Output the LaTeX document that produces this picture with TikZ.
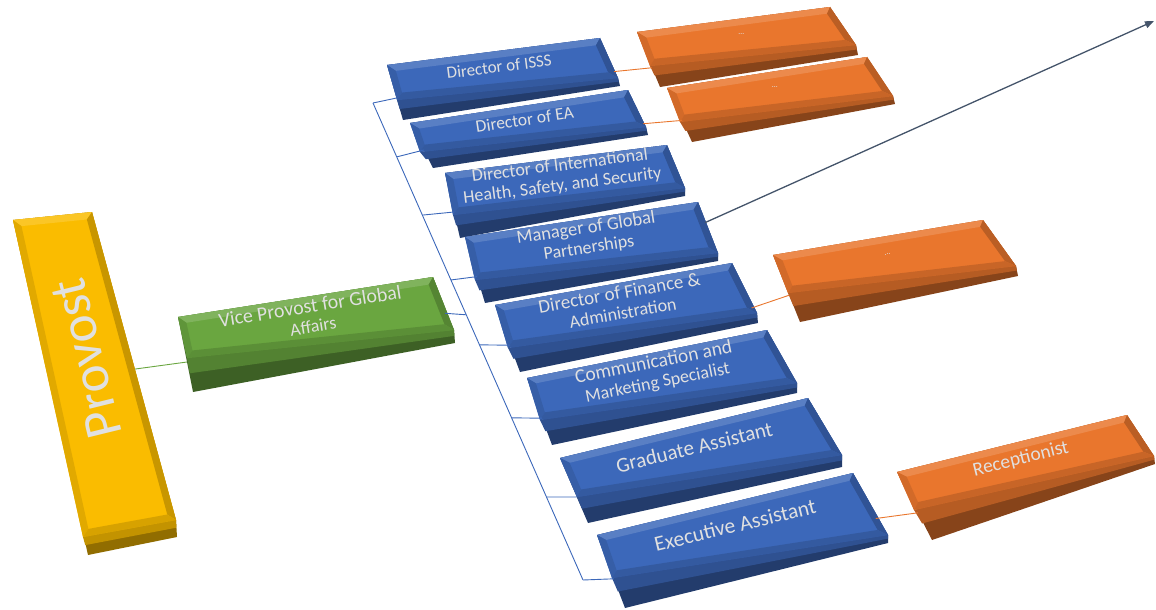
\documentclass[tikz,border=0pt]{standalone}
\usepackage{fontspec}
\setmainfont{Carlito}
\usetikzlibrary{calc,arrows.meta}
\definecolor{unitblue}{RGB}{60,104,186}
\definecolor{unitorange}{RGB}{233,118,45}
\definecolor{unitgreen}{RGB}{106,166,64}
\definecolor{unitgold}{RGB}{250,188,0}
\definecolor{arrowslate}{RGB}{68,84,106}

% one bevelled slab: name, top face (tl,tr,br,bl), front bottom (fr,fl), colour, text
\newcommand{\orgbox}[9]{%
  \coordinate (#1-tl) at #2; \coordinate (#1-tr) at #3;
  \coordinate (#1-br) at #4; \coordinate (#1-bl) at #5;
  \coordinate (#1-fr) at #6; \coordinate (#1-fl) at #7;
  \coordinate (#1-itl) at ($(#1-tl)!7pt!(#1-tr) + (#1-tl)!7pt!(#1-bl) - (#1-tl)$);
  \coordinate (#1-itr) at ($(#1-tr)!7pt!(#1-tl) + (#1-tr)!7pt!(#1-br) - (#1-tr)$);
  \coordinate (#1-ibr) at ($(#1-br)!7pt!(#1-bl) + (#1-br)!7pt!(#1-tr) - (#1-br)$);
  \coordinate (#1-ibl) at ($(#1-bl)!7pt!(#1-br) + (#1-bl)!7pt!(#1-tl) - (#1-bl)$);
  % front side, two tones
  \fill[#8!58!black] (#1-tl) -- (#1-tr) -- (#1-br) -- (#1-fr) -- (#1-fl) -- cycle;
  \fill[#8!78!black] (#1-bl) -- (#1-br) -- ($(#1-br)!0.45!(#1-fr)$) -- ($(#1-bl)!0.45!(#1-fl)$) -- cycle;
  % top face and its bevel
  \fill[#8] (#1-tl) -- (#1-tr) -- (#1-br) -- (#1-bl) -- cycle;
  \fill[#8!85!white] (#1-tl) -- (#1-tr) -- (#1-itr) -- (#1-itl) -- cycle;
  \fill[#8!90!black] (#1-tl) -- (#1-itl) -- (#1-ibl) -- (#1-bl) -- cycle;
  \fill[#8!80!black] (#1-tr) -- (#1-br) -- (#1-ibr) -- (#1-itr) -- cycle;
  \fill[#8!86!black] (#1-bl) -- (#1-br) -- (#1-ibr) -- (#1-ibl) -- cycle;
  \path let \p1 = ($(#1-tr)-(#1-tl)$), \n1 = {atan2(\y1,\x1)} in
    ($0.3*(#1-tl)+0.3*(#1-tr)+0.2*(#1-br)+0.2*(#1-bl)$)
    node[boxtext, rotate=\n1, #8 text] (#1) {#9};
}

\begin{document}
\begin{tikzpicture}[
    x=1pt, y=-1pt,
    boxtext/.style={text=white!88!black, align=center, inner sep=0pt, font=\fontsize{18}{20}\selectfont},
    unitblue text/.style={},
    unitorange text/.style={font=\fontsize{8}{8}\selectfont},
    unitgreen text/.style={},
    unitgold text/.style={rotate=98, xshift=-18pt, yshift=1pt, font=\fontsize{53}{53}\selectfont},
    bluelink/.style={draw=unitblue, line width=0.9pt},
    orangelink/.style={draw=unitorange, line width=0.9pt},
    greenlink/.style={draw=unitgreen, line width=0.9pt},
    callout/.style={draw=arrowslate, line width=1.3pt, -{Triangle[length=9pt, width=7pt]}}
]
    \useasboundingbox (0,0) rectangle (1156,610);

    % top of the chart
    \orgbox{provost}{(13,220)}{(92,212)}{(176,520)}{(83,537)}{(177,537)}{(88,555)}{unitgold}{Provost}
    \orgbox{vp}{(178,317)}{(433,277)}{(454,330)}{(187,358)}{(455,343)}{(193,392)}{unitgreen}%
        {\fontsize{20}{20}\selectfont Vice Provost for Global\\Affairs}

    % staff reporting to the vice provost
    \orgbox{isss}{(387,65)}{(600,38)}{(618,78)}{(397,100)}{(620,86)}{(403,120)}{unitblue}%
        {\fontsize{17}{18}\selectfont Director of ISSS}
    \orgbox{ea}{(410,123)}{(628,90)}{(646,127)}{(420,152)}{(648,135)}{(433,168)}{unitblue}%
        {\fontsize{17.5}{18}\selectfont Director of EA}
    \orgbox{intl}{(445,173)}{(667,145)}{(685,188)}{(453,215)}{(685,196)}{(460,238)}{unitblue}%
        {\fontsize{18}{19.5}\selectfont Director of International\\Health, Safety, and Security}
    \orgbox{mgr}{(465,237)}{(698,202)}{(718,253)}{(475,280)}{(718,261)}{(485,303)}{unitblue}%
        {\fontsize{18.5}{20}\selectfont Manager of Global\\Partnerships}
    \orgbox{fin}{(495,305)}{(732,263)}{(757,313)}{(508,348)}{(758,323)}{(520,372)}{unitblue}%
        {\fontsize{19}{20.5}\selectfont Director of Finance \&\\Administration}
    \orgbox{comm}{(527,378)}{(767,330)}{(797,383)}{(540,420)}{(797,393)}{(552,445)}{unitblue}%
        {\fontsize{19.5}{21}\selectfont Communication and\\Marketing Specialist}
    \orgbox{grad}{(560,458)}{(808,398)}{(842,455)}{(577,497)}{(842,467)}{(588,523)}{unitblue}%
        {\fontsize{21}{22}\selectfont Graduate Assistant}
    \orgbox{exec}{(597,535)}{(853,473)}{(888,535)}{(612,578)}{(888,543)}{(625,608)}{unitblue}%
        {\fontsize{21.5}{22}\selectfont Executive Assistant}

    % third level
    \orgbox{isssub}{(637,32)}{(830,7)}{(856,45)}{(650,66)}{(858,55)}{(660,87)}{unitorange}{...}
    \orgbox{easub}{(667,88)}{(867,57)}{(893,96)}{(680,122)}{(895,104)}{(692,142)}{unitorange}{...}
    \orgbox{finsub}{(773,255)}{(983,220)}{(1016,266)}{(788,293)}{(1018,276)}{(800,322)}{unitorange}{...}
    \orgbox{recep}{(897,472)}{(1127,415)}{(1154,456)}{(914,510)}{(1155,464)}{(932,540)}{unitorange}%
        {\fontsize{19.5}{20}\selectfont Receptionist}

    % connectors
    \draw[greenlink] ($(provost-tr)!0.51!(provost-br)$) -- ($(vp-tl)!0.6!(vp-fl)$);
    \coordinate (trunk-top) at (373,103);
    \coordinate (trunk-bot) at (583,580);
    \draw[bluelink] (trunk-top) -- (trunk-bot);
    \foreach \b/\f in {isss/0, ea/0.113, intl/0.235, mgr/0.371, fin/0.507, comm/0.66, grad/0.826, exec/1}
        \draw[bluelink] ($(trunk-top)!\f!(trunk-bot)$) -- ($(\b-tl)!0.6!(\b-fl)$);
    \draw[bluelink] ($(trunk-top)!0.444!(trunk-bot)$) -- ($(vp-tr)!0.55!(vp-fr)$);
    \draw[orangelink] ($(isss-tr)!0.7!(isss-fr)$) -- ($(isssub-tl)!0.65!(isssub-fl)$);
    \draw[orangelink] ($(ea-tr)!0.75!(ea-fr)$) -- ($(easub-tl)!0.6!(easub-fl)$);
    \draw[orangelink] ($(fin-tr)!0.75!(fin-fr)$) -- ($(finsub-tl)!0.6!(finsub-fl)$);
    \draw[orangelink] ($(exec-tr)!0.65!(exec-fr)$) -- ($(recep-tl)!0.6!(recep-fl)$);
    \coordinate (callout-end) at (1154,21);
    \draw[callout] ($(mgr-tr)!0.35!(mgr-fr)$) -- (callout-end);
\end{tikzpicture}
\end{document}
